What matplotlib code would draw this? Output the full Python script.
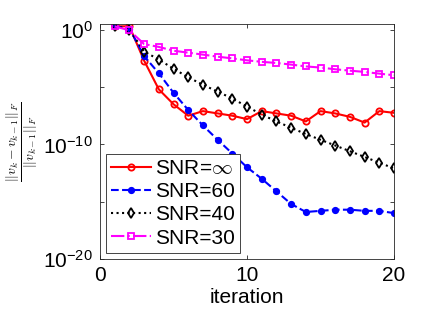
import matplotlib

matplotlib.use("Agg")
import matplotlib.pyplot as plt
import numpy as np

plt.rcParams["font.family"] = ["Liberation Sans", "DejaVu Sans"]
plt.rcParams["mathtext.fontset"] = "cm"

iterations = np.arange(1, 21)

# log10 of the relative change
log_snr_inf = [0.3, 0.3, -2.7, -5.2, -6.5, -7.5, -7.1, -7.3, -7.5, -7.8,
               -7.1, -7.3, -7.5, -8.0, -7.1, -7.3, -7.6, -8.1, -7.1, -7.25]
log_snr_60 = [0.3, 0.1, -2.3, -3.8, -5.5, -7.0, -8.35, -9.6, -10.8, -12.0,
              -13.0, -14.1, -15.2, -15.9, -15.8, -15.7, -15.7, -15.8, -15.8, -16.0]
log_snr_40 = [0.35, 0.0, -1.9, -2.6, -3.4, -4.15, -4.8, -5.4, -6.0, -6.7,
              -7.4, -8.0, -8.55, -9.1, -9.6, -10.1, -10.6, -11.1, -11.6, -12.1]
log_snr_30 = [0.3, -0.06, -1.25, -1.5, -1.83, -2.0, -2.17, -2.35, -2.5, -2.67,
              -2.8, -2.9, -3.04, -3.2, -3.3, -3.45, -3.57, -3.68, -3.83, -3.97]

labels = [r"SNR=$\infty$", "SNR=60", "SNR=40", "SNR=30"]

fig = plt.figure(figsize=(4.36, 3.27), dpi=100)
ax = fig.add_axes([0.2294, 0.208, 0.6743, 0.7186])

ax.semilogy(iterations, 10.0 ** np.array(log_snr_inf), "-o", color="#ff0000",
            lw=1.5, ms=4.5, mfc="none", mew=1.3, label=labels[0])
ax.semilogy(iterations, 10.0 ** np.array(log_snr_60), "--o", color="#0000ff",
            lw=1.5, ms=4.2, mfc="#0000ff", mew=1.0, label=labels[1])
ax.semilogy(iterations, 10.0 ** np.array(log_snr_40), ":d", color="black",
            lw=1.5, ms=4.8, mfc="none", mew=1.3, label=labels[2])
ax.semilogy(iterations, 10.0 ** np.array(log_snr_30), "-.s", color="#ff00ff",
            lw=1.5, ms=4.2, mfc="none", mew=1.3, label=labels[3])

ax.set_xlim(0, 20)
ax.set_ylim(1e-20, 10 ** 0.5)
ax.set_xticks([0, 10, 20])
yt = [1e-20, 1e-15, 1e-10, 1e-5, 1e0]
ax.set_yticks(yt)
ax.set_yticklabels([r"$\mathregular{10^{-20}}$", "", r"$\mathregular{10^{-10}}$", "",
                    r"$\mathregular{10^{0}}$"])
ax.minorticks_off()
ax.tick_params(direction="in", top=True, right=True, labelsize=15,
               color="#262626", length=3, width=0.6, pad=5)
for s in ax.spines.values():
    s.set_color("#262626")
    s.set_linewidth(0.6)

ax.set_xlabel("iteration", fontsize=15, labelpad=2)
ax.set_ylabel(r"$\frac{||v_k - v_{k-1}||_F}{||v_{k-1}||_F}$", fontsize=14,
              labelpad=2)

leg = ax.legend(loc="lower left", fontsize=15, handlelength=1.9,
                labelspacing=0.2, borderaxespad=0.3, handletextpad=0.2,
                borderpad=0.25, fancybox=False, framealpha=1)
leg.get_frame().set_edgecolor("#262626")
leg.get_frame().set_linewidth(0.6)

fig.savefig("out.png", dpi=100)
